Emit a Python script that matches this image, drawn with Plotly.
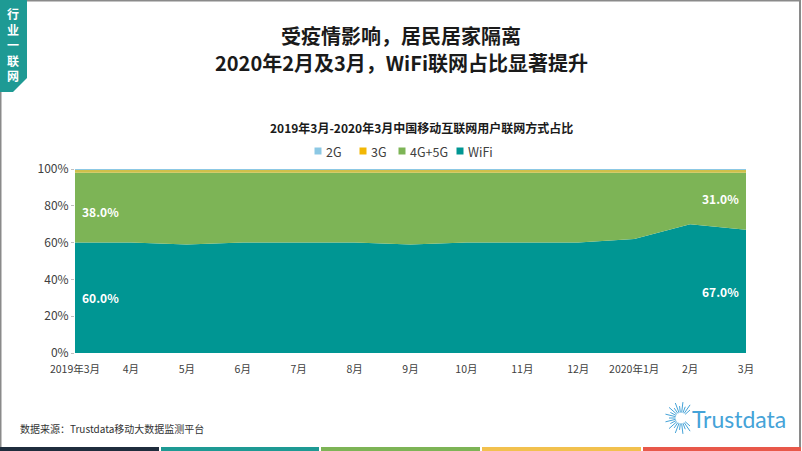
import math
import plotly.graph_objects as go

# ---------------- data ----------------
months = ["2019年3月", "4月", "5月", "6月", "7月", "8月", "9月", "10月",
          "11月", "12月", "2020年1月", "2月", "3月"]
wifi = [60.0, 60.0, 59.0, 60.0, 60.0, 60.0, 59.0, 60.0, 60.0, 60.0, 62.0, 70.0, 67.0]
g45 = [38.0, 38.0, 39.0, 38.0, 38.0, 38.0, 39.0, 38.0, 38.0, 38.0, 36.0, 28.0, 31.0]
g3 = [1.5] * 13
g2 = [0.5] * 13

series_names = ["WiFi", "4G+5G", "3G", "2G"]
series_vals = [wifi, g45, g3, g2]
series_colors = ["#009693", "#7db456", "#cfc04a", "#8cc8e4"]
legend_colors = {"2G": "#8cc8e4", "3G": "#f2b705", "4G+5G": "#7db456", "WiFi": "#009693"}

title1 = "受疫情影响，居民居家隔离"
title2 = "2020年2月及3月，WiFi联网占比显著提升"
subtitle = "2019年3月-2020年3月中国移动互联网用户联网方式占比"
source = "数据来源：Trustdata移动大数据监测平台"
tag = "行业一联网"

W, H = 802, 451
L, R, T, B = 75, 746, 169, 353  # plot area pixels

FONT = "Noto Sans CJK SC, Noto Sans, sans-serif"


def px(x):
    return (x - L) / (R - L)


def py(y):
    return (B - y) / (B - T)


fig = go.Figure()
for name, vals, col in zip(series_names, series_vals, series_colors):
    fig.add_trace(go.Scatter(
        x=months, y=vals, name=name, mode="lines", stackgroup="one",
        line=dict(width=0, color=col), fillcolor=col, showlegend=False,
        hovertemplate="%{x}: %{y:.1f}%<extra>" + name + "</extra>"))


def ann(x, y, text, size, color, xanchor="center", family=FONT):
    return dict(x=px(x), y=py(y), xref="paper", yref="paper", text=text,
                showarrow=False, xanchor=xanchor, yanchor="middle",
                font=dict(family=family, size=size, color=color))


annotations = []
# data labels
labels = [
    (0, wifi[0] * 0.5, wifi[0], "left"),
    (0, wifi[0] + g45[0] * 0.44, g45[0], "left"),
    (12, wifi[12] * 0.5, wifi[12], "right"),
    (12, wifi[12] + g45[12] * 0.55, g45[12], "right"),
]
for xi, yv, val, anc in labels:
    annotations.append(dict(
        x=months[xi], y=yv, xref="x", yref="y", text=f"<b>{val:.1f}%</b>",
        showarrow=False, xanchor=anc, yanchor="middle",
        xshift=5 if anc == "left" else -5,
        font=dict(family=FONT, size=12, color="white")))

annotations += [
    ann(401, 35, f"<b>{title1}</b>", 20, "#1a1a1a"),
    ann(401, 62, f"<b>{title2}</b>", 20, "#1a1a1a"),
    ann(421, 127, f"<b>{subtitle}</b>", 12, "#1a1a1a"),
    ann(18, 428, source, 10, "#333333", xanchor="left"),
    ann(13, 45, "<b>" + "<br>".join(list(tag)) + "</b>", 12, "white"),
    ann(690, 419, "Trustdata", 23, "#45a3d8", xanchor="left",
        family="Lato, Open Sans, sans-serif"),
]

shapes = []
# legend (manual, small squares)
leg_order = ["2G", "3G", "4G+5G", "WiFi"]
leg_x = [318, 363, 402, 460]
for nm, lx in zip(leg_order, leg_x):
    shapes.append(dict(type="rect", xref="paper", yref="paper",
                       x0=px(lx - 3.5), x1=px(lx + 3.5), y0=py(154.5), y1=py(147.5),
                       fillcolor=legend_colors[nm], line=dict(width=0)))
    annotations.append(ann(lx + 6, 151, nm, 12.5, "#404040", xanchor="left"))

# slide frame
shapes.append(dict(type="rect", xref="paper", yref="paper",
                   x0=px(0.5), x1=px(800), y0=py(452), y1=py(0.5),
                   line=dict(color="#8a8a8a", width=2), layer="below"))
# tag box
pts = [(0, 0), (27, 0), (27, 78), (13, 92), (0, 92)]
path = "M " + " L ".join(f"{px(a):.5f},{py(b):.5f}" for a, b in pts) + " Z"
shapes.append(dict(type="path", xref="paper", yref="paper", path=path,
                   fillcolor="#1e9a94", line=dict(width=0), layer="below"))
# bottom colour bar
bar_cols = ["#1f2d3d", "#1e9a94", "#7db456", "#f2c14e", "#e8584a"]
edges = [0, 160, 320, 481, 642, 802]
for i, c in enumerate(bar_cols):
    shapes.append(dict(type="rect", xref="paper", yref="paper",
                       x0=px(edges[i] + (1 if i else 0)), x1=px(edges[i + 1] - 1),
                       y0=py(451), y1=py(447), fillcolor=c, line=dict(width=0)))
# starburst logo
cx, cy = 681, 418
n = 26
for k in range(n):
    ang = 2 * math.pi * k / n
    deg = math.degrees(ang) % 360
    if deg < 35 or deg > 330:
        continue
    r0 = 5.5
    r1 = 12 + (4 if k % 2 == 0 else 0)
    x0 = cx + r0 * math.cos(ang)
    y0 = cy - r0 * math.sin(ang)
    x1 = cx + r1 * math.cos(ang)
    y1 = cy - r1 * math.sin(ang)
    shapes.append(dict(type="line", xref="paper", yref="paper",
                       x0=px(x0), y0=py(y0), x1=px(x1), y1=py(y1),
                       line=dict(color="#45a3d8", width=1)))

fig.update_layout(
    width=W, height=H, autosize=False,
    margin=dict(l=L, r=W - R, t=T, b=H - B),
    paper_bgcolor="white", plot_bgcolor="white",
    font=dict(family=FONT, size=11, color="#404040"),
    showlegend=False,
    xaxis=dict(type="category", range=[0, 12], showgrid=False, zeroline=False,
               showline=False, ticks="", tickfont=dict(size=10.5, color="#404040"),
               tickangle=0, ticklabelstandoff=8, fixedrange=True),
    yaxis=dict(range=[0, 100], tickvals=[0, 20, 40, 60, 80, 100],
               ticktext=["0%", "20%", "40%", "60%", "80%", "100%"],
               showgrid=False, zeroline=False, showline=False,
               ticks="outside", ticklen=3, tickcolor="#bfbfbf",
               tickfont=dict(size=12, color="#404040"), fixedrange=True),
    annotations=annotations, shapes=shapes,
)

fig.write_html("out.html", config={"displayModeBar": False},
               post_script="document.body.style.margin='0';document.body.style.overflow='hidden';")
